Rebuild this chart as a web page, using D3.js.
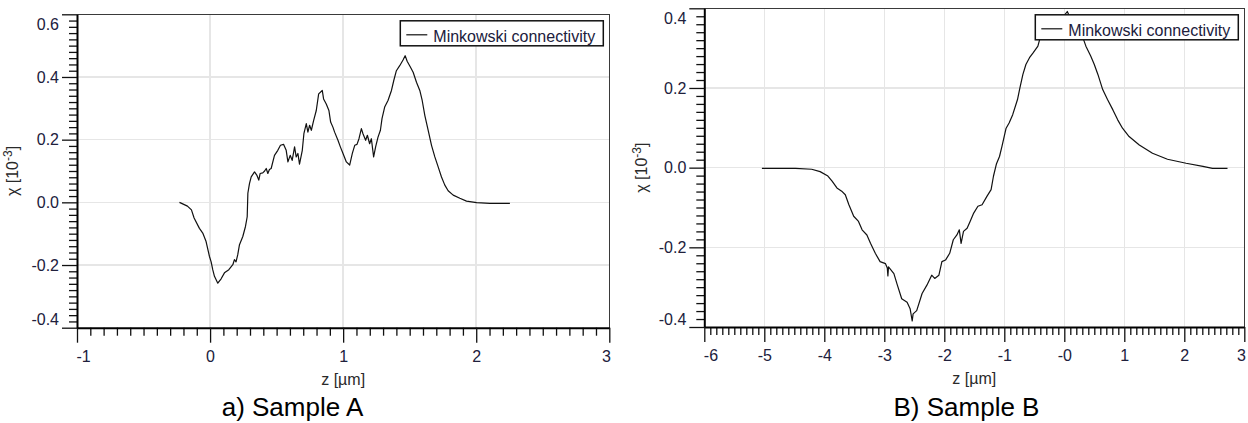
<!DOCTYPE html>
<html>
<head>
<meta charset="utf-8">
<script src="https://cdn.jsdelivr.net/npm/d3@7"></script>
<style>
  html, body { margin: 0; padding: 0; background: #fff; }
  svg { display: block; }
  .tick text { font-family: "Liberation Sans", Arial, sans-serif; font-size: 16px; fill: #20203c; }
</style>
</head>
<body>
<svg id="chart" width="1248" height="423"></svg>
<script>
// ---- Sample A: Minkowski connectivity profile ----
const sampleA_z = [
  -0.23, -0.17, -0.14, -0.12, -0.08, -0.055, -0.03, -0.005, 0.008, 0.02, 0.033, 0.058,
  0.083, 0.108, 0.141, 0.171, 0.183, 0.195, 0.208, 0.221, 0.246, 0.266, 0.279, 0.284,
  0.296, 0.309, 0.334, 0.351, 0.366, 0.376, 0.396, 0.410, 0.422, 0.434, 0.446, 0.459,
  0.484, 0.509, 0.529, 0.552, 0.572, 0.585, 0.602, 0.617, 0.635, 0.647, 0.660, 0.672,
  0.693, 0.705, 0.723, 0.735, 0.748, 0.761, 0.778, 0.798, 0.816, 0.843, 0.853, 0.873,
  0.893, 0.906, 0.923, 0.936, 0.961, 0.979, 0.999, 1.024, 1.049, 1.069, 1.087, 1.104,
  1.119, 1.137, 1.149, 1.169, 1.182, 1.199, 1.212, 1.229, 1.244, 1.262, 1.280, 1.292,
  1.312, 1.337, 1.363, 1.380, 1.400, 1.425, 1.450, 1.466, 1.481, 1.506, 1.526, 1.551,
  1.576, 1.594, 1.614, 1.639, 1.664, 1.689, 1.714, 1.739, 1.764, 1.789, 1.827, 1.877,
  1.927, 2.003, 2.103, 2.253
];
const sampleA_chi = [
  0.000, -0.012, -0.024, -0.050, -0.083, -0.098, -0.125, -0.172, -0.190, -0.215, -0.236, -0.258,
  -0.244, -0.225, -0.215, -0.199, -0.183, -0.190, -0.167, -0.135, -0.109, -0.077, -0.046, 0.029,
  0.060, 0.081, 0.097, 0.087, 0.071, 0.092, 0.094, 0.100, 0.108, 0.092, 0.105, 0.108,
  0.150, 0.166, 0.182, 0.185, 0.166, 0.129, 0.150, 0.134, 0.177, 0.145, 0.156, 0.122,
  0.166, 0.219, 0.251, 0.224, 0.246, 0.230, 0.261, 0.293, 0.346, 0.357, 0.330, 0.314,
  0.293, 0.256, 0.240, 0.224, 0.198, 0.177, 0.156, 0.129, 0.119, 0.156, 0.182, 0.185,
  0.203, 0.235, 0.219, 0.198, 0.214, 0.187, 0.203, 0.145, 0.177, 0.208, 0.230, 0.267,
  0.304, 0.325, 0.357, 0.388, 0.420, 0.436, 0.454, 0.468, 0.450, 0.431, 0.415, 0.383,
  0.357, 0.325, 0.277, 0.230, 0.182, 0.145, 0.113, 0.081, 0.055, 0.037, 0.023, 0.013,
  0.004, -0.001, -0.003, -0.003
];

// ---- Sample B: Minkowski connectivity profile ----
const sampleB_z = [
  -5.04, -4.48, -4.21, -4.07, -3.94, -3.87, -3.79, -3.71, -3.65, -3.59, -3.51, -3.43,
  -3.37, -3.29, -3.23, -3.15, -3.07, -2.98, -2.95, -2.94, -2.93, -2.84, -2.79, -2.71,
  -2.62, -2.57, -2.535, -2.52, -2.46, -2.37, -2.29, -2.21, -2.16, -2.09, -2.04, -1.98,
  -1.91, -1.85, -1.79, -1.75, -1.72, -1.68, -1.62, -1.57, -1.51, -1.44, -1.37, -1.29,
  -1.22, -1.18, -1.13, -1.08, -1.04, -0.97, -0.92, -0.86, -0.78, -0.74, -0.69, -0.64,
  -0.58, -0.52, -0.44, -0.41, -0.35, -0.25, -0.12, 0.00, 0.05, 0.10, 0.20, 0.32,
  0.36, 0.44, 0.50, 0.56, 0.64, 0.72, 0.81, 0.89, 0.97, 1.08, 1.25, 1.47,
  1.72, 2.03, 2.31, 2.47, 2.72
];
const sampleB_chi = [
  -0.002, -0.002, -0.004, -0.010, -0.021, -0.034, -0.051, -0.059, -0.068, -0.093, -0.122, -0.135,
  -0.156, -0.169, -0.190, -0.215, -0.236, -0.241, -0.252, -0.272, -0.249, -0.266, -0.291, -0.329,
  -0.338, -0.354, -0.385, -0.367, -0.359, -0.316, -0.295, -0.270, -0.278, -0.270, -0.236, -0.232,
  -0.215, -0.181, -0.169, -0.156, -0.190, -0.160, -0.152, -0.135, -0.114, -0.097, -0.093, -0.072,
  -0.055, -0.021, 0.010, 0.028, 0.053, 0.099, 0.112, 0.133, 0.171, 0.200, 0.234, 0.259,
  0.276, 0.288, 0.305, 0.322, 0.340, 0.360, 0.375, 0.382, 0.392, 0.375, 0.350, 0.322,
  0.305, 0.280, 0.259, 0.234, 0.196, 0.171, 0.145, 0.120, 0.099, 0.078, 0.057, 0.036,
  0.021, 0.011, 0.003, -0.002, -0.002
];

// ---- Tick values and labels ----
const xTicksA = [-1, 0, 1, 2, 3];
const xLabelsA = ["-1", "0", "1", "2", "3"];
const yTicksA = [-0.4, -0.2, 0.0, 0.2, 0.4, 0.6];
const yLabelsA = ["-0.4", "-0.2", "0.0", "0.2", "0.4", "0.6"];

const xTicksB = [-6, -5, -4, -3, -2, -1, 0, 1, 2, 3];
const xLabelsB = ["-6", "-5", "-4", "-3", "-2", "-1", "-0", "1", "2", "3"];
const yTicksB = [-0.4, -0.2, 0.0, 0.2, 0.4];
const yLabelsB = ["-0.4", "-0.2", "0.0", "0.2", "0.4"];

const legendLabel = "Minkowski connectivity";
const xTitle = "z [\u00b5m]";
const captions = ["a) Sample A", "B) Sample B"];

const svg = d3.select("#chart");
const FONT = '"Liberation Sans", Arial, sans-serif';

function drawPanel(p) {
  const g = svg.append("g");
  const x = d3.scaleLinear().domain(p.xDomain).range([p.left, p.right]);
  const y = d3.scaleLinear().domain(p.yDomain).range([p.bottom, p.top]);

  // gridlines at inner major ticks
  const grid = g.append("g").attr("stroke", "#e6e6e6").attr("stroke-width", 1.5)
    .attr("shape-rendering", "crispEdges");
  grid.selectAll("line.gx").data(p.xTicks.slice(1, -1)).join("line")
    .attr("x1", d => x(d)).attr("x2", d => x(d))
    .attr("y1", p.top).attr("y2", p.bottom);
  grid.selectAll("line.gy").data(p.yTicks.slice(1, -1)).join("line")
    .attr("x1", p.left).attr("x2", p.right)
    .attr("y1", d => y(d)).attr("y2", d => y(d));

  // data curve
  const pts = p.xs.map((v, i) => [v, p.ys[i]]);
  g.append("path").datum(pts)
    .attr("fill", "none").attr("stroke", "#111").attr("stroke-width", 1.2)
    .attr("stroke-linejoin", "round")
    .attr("d", d3.line().x(d => x(d[0])).y(d => y(d[1])));

  // frame (top and right)
  g.append("path")
    .attr("d", `M${p.left},${p.top}H${p.right}V${p.bottom}`)
    .attr("fill", "none").attr("stroke", "#3a3a3a").attr("stroke-width", 1.5)
    .attr("shape-rendering", "crispEdges");

  // minor ticks
  const xMinor = d3.range(p.xDomain[0], p.xDomain[1] + 1e-9, 0.1)
    .filter(v => Math.abs(v - Math.round(v)) > 1e-6);
  const yMinor = d3.range(p.yDomain[0], p.yDomain[1] + 1e-9, 0.02)
    .filter(v => Math.abs(v * 5 - Math.round(v * 5)) > 1e-6);

  g.append("g").attr("transform", `translate(0,${p.bottom})`)
    .call(d3.axisBottom(x).tickValues(xMinor).tickSize(8).tickSizeOuter(0).tickFormat(""))
    .call(a => a.select(".domain").remove())
    .call(a => a.selectAll("line").attr("stroke", "#111").attr("stroke-width", 1.3));
  g.append("g").attr("transform", `translate(${p.left},0)`)
    .call(d3.axisLeft(y).tickValues(yMinor).tickSize(8).tickSizeOuter(0).tickFormat(""))
    .call(a => a.select(".domain").remove())
    .call(a => a.selectAll("line").attr("stroke", "#111").attr("stroke-width", 1.3));

  // major axes
  const xa = g.append("g").attr("transform", `translate(0,${p.bottom})`)
    .call(d3.axisBottom(x).tickValues(p.xTicks).tickSize(15).tickSizeOuter(0).tickPadding(7.5)
      .tickFormat((d, i) => p.xLabels[i]));
  xa.select(".domain").attr("stroke", "#000").attr("stroke-width", 2);
  xa.selectAll(".tick line").attr("stroke", "#111").attr("stroke-width", 1.3);
  const xt = xa.selectAll(".tick text");
  xt.filter((d, i) => i === 0).attr("text-anchor", "start").attr("x", -1);
  xt.filter((d, i, n) => i === n.length - 1).attr("text-anchor", "end").attr("x", 1);

  const ya = g.append("g").attr("transform", `translate(${p.left},0)`)
    .call(d3.axisLeft(y).tickValues(p.yTicks).tickSize(15).tickSizeOuter(0).tickPadding(3)
      .tickFormat((d, i) => p.yLabels[i]));
  ya.select(".domain").attr("stroke", "#000").attr("stroke-width", 2);
  ya.selectAll(".tick line").attr("stroke", "#111").attr("stroke-width", 1.3);
  const yt = ya.selectAll(".tick text");
  yt.filter((d, i) => i === 0).attr("transform", "translate(0,-8)");
  yt.filter((d, i, n) => i === n.length - 1).attr("transform", "translate(0,10)");

  // axis titles
  g.append("text")
    .attr("x", (p.left + p.right) / 2).attr("y", p.bottom + 57)
    .attr("text-anchor", "middle")
    .style("font-family", FONT).style("font-size", "16px").attr("fill", "#2a2a2a")
    .text(xTitle);

  const yTitle = g.append("text")
    .attr("transform", `translate(${p.yTitleX},${(p.top + p.bottom) / 2}) rotate(-90)`)
    .attr("text-anchor", "middle")
    .style("font-family", FONT).style("font-size", "16px").attr("fill", "#2a2a2a");
  yTitle.append("tspan").text("\u03c7 [10");
  yTitle.append("tspan").attr("dy", -6).style("font-size", "12px").text("-3");
  yTitle.append("tspan").attr("dy", 6).text("]");

  // legend
  const lw = 203, lh = 25;
  const lx = p.right - 6 - lw, ly = p.top + 6.5;
  const lg = g.append("g").attr("transform", `translate(${lx},${ly})`);
  lg.append("rect").attr("width", lw).attr("height", lh)
    .attr("fill", "#fff").attr("stroke", "#111").attr("stroke-width", 1.5);
  lg.append("line").attr("x1", 6).attr("x2", 27).attr("y1", 14).attr("y2", 14)
    .attr("stroke", "#111").attr("stroke-width", 1.2);
  lg.append("text").attr("x", 33).attr("y", 21)
    .style("font-family", FONT).style("font-size", "16px").attr("fill", "#20203c")
    .text(legendLabel);

  // caption
  svg.append("text")
    .attr("x", p.captionX).attr("y", 416).attr("text-anchor", "middle")
    .style("font-family", FONT).style("font-size", "26px").attr("fill", "#000")
    .text(p.caption);
}

drawPanel({
  left: 77, right: 609.3, top: 14.3, bottom: 327.7,
  xDomain: [-1, 3], yDomain: [-0.4, 0.6],
  xTicks: xTicksA, xLabels: xLabelsA, yTicks: yTicksA, yLabels: yLabelsA,
  xs: sampleA_z, ys: sampleA_chi,
  yTitleX: 18, captionX: 292.5, caption: captions[0]
});

drawPanel({
  left: 704.3, right: 1244.3, top: 8.3, bottom: 327,
  xDomain: [-6, 3], yDomain: [-0.4, 0.4],
  xTicks: xTicksB, xLabels: xLabelsB, yTicks: yTicksB, yLabels: yLabelsB,
  xs: sampleB_z, ys: sampleB_chi,
  yTitleX: 647, captionX: 966.5, caption: captions[1]
});
</script>
</body>
</html>
